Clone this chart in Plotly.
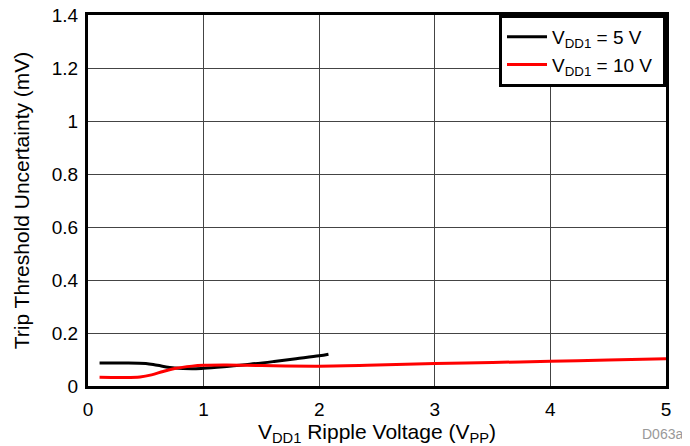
import plotly.graph_objects as go

# VDD1 = 5 V
x_5v = [0.1, 0.3, 0.5, 0.6, 0.75, 0.9, 1.0, 1.2, 1.4, 1.6, 1.8, 2.0, 2.08]
y_5v = [0.087, 0.087, 0.085, 0.078, 0.068, 0.065, 0.067, 0.074, 0.082, 0.092, 0.103, 0.114, 0.12]

# VDD1 = 10 V
x_10v = [0.1, 0.3, 0.45, 0.55, 0.65, 0.75, 0.9, 1.0, 1.2, 1.5, 2.0, 2.5, 3.0, 3.5, 4.0, 4.5, 5.0]
y_10v = [0.033, 0.032, 0.034, 0.042, 0.055, 0.066, 0.075, 0.078, 0.079, 0.077, 0.075, 0.079,
         0.085, 0.089, 0.093, 0.098, 0.103]

font = 'Liberation Sans, Arial, sans-serif'

fig = go.Figure()
fig.add_trace(go.Scatter(x=x_5v, y=y_5v, mode='lines', name='V<sub>DD1</sub> = 5 V\u00a0',
                         line=dict(color='black', width=3, shape='spline')))
fig.add_trace(go.Scatter(x=x_10v, y=y_10v, mode='lines', name='V<sub>DD1</sub> = 10 V\u00a0',
                         line=dict(color='#ff0000', width=3, shape='spline')))

axis = dict(showline=True, mirror=True, linecolor='black', linewidth=3,
            showgrid=True, gridcolor='#444444', gridwidth=1, zeroline=False,
            ticks='', automargin=False, ticklabeloverflow='allow',
            tickfont=dict(family=font, size=19, color='black'))

# the page body adds an 8px offset, so the figure is sized to the visible area
fig.update_layout(
    width=682, height=438,
    margin=dict(l=80, r=24, t=7, b=60),
    plot_bgcolor='white', paper_bgcolor='white',
    font=dict(family=font, color='black'),
    xaxis=dict(axis, range=[0, 5], dtick=1, ticklabelstandoff=4,
               title=dict(text='V<sub>DD1</sub> Ripple Voltage (V<sub>PP</sub>)',
                          font=dict(size=21), standoff=0)),
    yaxis=dict(axis, range=[0, 1.4], dtick=0.2, ticklabelstandoff=3,
               title=dict(text='Trip Threshold Uncertainty (mV)', font=dict(size=21), standoff=17)),
    legend=dict(x=1, y=1, xanchor='right', yanchor='top', bgcolor='white',
                bordercolor='black', borderwidth=3, font=dict(size=19),
                tracegroupgap=0, itemwidth=40),
    annotations=[dict(text='D063a', x=1, y=0, xref='paper', yref='paper', xanchor='right',
                      yanchor='bottom', xshift=19, yshift=-58, showarrow=False,
                      font=dict(size=14, color='#999999'))],
)

fig.write_html('out.html')
